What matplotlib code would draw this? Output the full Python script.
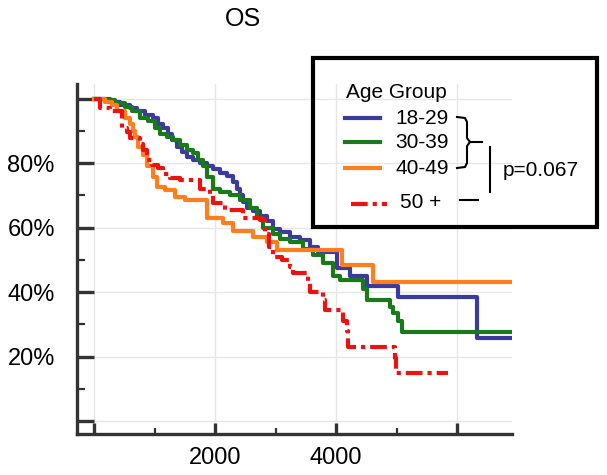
import matplotlib
matplotlib.use("Agg")
import matplotlib.pyplot as plt
from matplotlib.lines import Line2D
from matplotlib.patches import Rectangle

plt.rcParams['font.family'] = ['Liberation Sans', 'DejaVu Sans']

# ---- data (time in days, survival in %) ----
t_18_29 = [0, 265, 430, 595, 710, 843, 975, 1058, 1140, 1223, 1289, 1372, 1455, 1537, 1636,
           1752, 1868, 1967, 2083, 2198, 2298, 2364, 2413, 2463, 2529, 2628, 2744, 2860, 2959,
           3075, 3240, 3405, 3570, 3700, 4017, 4232, 4513, 5025, 6331, 6900]
s_18_29 = [100, 99, 98, 97, 96, 95, 94, 92, 91, 89, 87, 85, 83.5, 82, 81,
           80, 79, 78, 77, 76, 74, 72, 70, 68, 66, 65, 63.5, 62, 59.5,
           58.5, 57, 56, 54, 52.5, 47.5, 45, 42, 38.4, 25.7, 25.7]

t_30_39 = [0, 182, 347, 512, 628, 760, 893, 1008, 1091, 1207, 1306, 1422, 1537, 1636, 1719,
           1802, 1868, 1967, 2083, 2248, 2413, 2579, 2694, 2794, 2959, 3075, 3240, 3455, 3620,
           3786, 3951, 4067, 4447, 4513, 4893, 4943, 5025, 5091, 6900]
s_30_39 = [100, 99.5, 98.5, 97.5, 96, 94, 93, 91, 89, 88, 87, 85.5, 84, 83, 81,
           79, 75.7, 72, 71, 70, 68.5, 66, 63, 60, 58, 56.5, 55.5, 53.5, 51.5,
           49, 45, 43.7, 41, 37.5, 35.3, 33.5, 31, 27.6, 27.6]

t_40_49 = [0, 182, 298, 380, 512, 595, 645, 678, 727, 810, 876, 975, 1041, 1174, 1339,
           1504, 1868, 2132, 2298, 2628, 2860, 3025, 4100, 4612, 6900]
s_40_49 = [100, 99, 98, 96, 94, 92, 90, 88, 85, 82.5, 79, 75.7, 72.6, 71.5, 69.5,
           68.5, 63, 61.4, 59, 57, 55.5, 53, 48.4, 43, 43]

t_50p = [0, 99, 265, 463, 546, 595, 760, 810, 876, 959, 1058, 1140, 1256, 1422, 1752,
         1917, 1967, 2165, 2463, 2744, 2827, 2893, 2959, 3108, 3240, 3290, 3538, 3571, 3786,
         3819, 4116, 4182, 4199, 4976, 4992, 5850]
s_50p = [100, 97, 96, 91, 89.6, 87.7, 86, 84, 81, 79.5, 78.5, 76.5, 75.5, 74.7, 72,
         70.5, 67.6, 65.4, 63, 62.3, 58, 54, 51, 50, 47.8, 45.9, 42.8, 40, 37.5,
         34.4, 31, 28, 23, 19.5, 15, 15]

groups = ['18-29', '30-39', '40-49', '50 +']
colors = ['#3B3B9E', '#1A7A1A', '#FF7F1E', '#EE1111']

y_ticks = [0, 20, 40, 60, 80, 100]
y_labels = ['', '20%', '40%', '60%', '80%', '']
x_ticks = [0, 2000, 4000, 6000]
x_labels = ['', '2000', '4000', '']

W, H = 607, 475
fig = plt.figure(figsize=(W / 100, H / 100), dpi=100)


def fx(px):
    return px / W


def fy(py):
    return 1 - py / H


ax = fig.add_axes([fx(77), fy(434), fx(512) - fx(77), fy(84) - fy(434)])
ax.set_xlim(-281, 6909)
ax.set_ylim(-4.0, 104.5)

lw = 3.0
dash = (4.0, 1.2, 1.0, 1.2)
series = [(t_18_29, s_18_29), (t_30_39, s_30_39), (t_40_49, s_40_49), (t_50p, s_50p)]
for i, ((t, s), c) in enumerate(zip(series, colors)):
    if i == 3:
        ax.step(t, s, where='post', color=c, lw=lw, dashes=dash, zorder=3 + i)
    else:
        ax.step(t, s, where='post', color=c, lw=lw, zorder=3 + i)

ax.set_yticks(y_ticks)
ax.set_yticklabels(y_labels)
ax.set_yticks([10, 30, 50, 70, 90], minor=True)
ax.set_xticks(x_ticks)
ax.set_xticklabels(x_labels)
ax.set_xticks([1000, 3000, 5000], minor=True)

ax.tick_params(axis='y', which='major', direction='in', length=12, width=2.4,
               color='#333333', labelsize=17, pad=16)
ax.tick_params(axis='y', which='minor', direction='in', length=6, width=1.6, color='#333333')
ax.tick_params(axis='x', which='major', direction='in', length=8, width=2.4,
               color='#333333', labelsize=17, pad=9)
ax.tick_params(axis='x', which='minor', direction='in', length=4.5, width=1.6, color='#333333')

for side in ['top', 'right']:
    ax.spines[side].set_visible(False)
for side in ['left', 'bottom']:
    ax.spines[side].set_color('#333333')
    ax.spines[side].set_linewidth(2.4)

ax.grid(True, which='major', color='#E6E6E6', lw=1.0, zorder=0)
ax.set_axisbelow(True)

# title
fig.text(fx(243), fy(19), 'OS', ha='center', va='center', fontsize=18)

# legend box
fig.add_artist(Rectangle((fx(313), fy(227)), fx(597) - fx(313), fy(58) - fy(227),
                         transform=fig.transFigure, fill=False, edgecolor='black', lw=3.0, zorder=10))
fig.text(fx(346), fy(92), 'Age Group', ha='left', va='center', fontsize=15, zorder=11)

leg_y = [118, 142, 168]
for yy, c, g in zip(leg_y, colors[:3], groups[:3]):
    fig.add_artist(Line2D([fx(345), fx(380)], [fy(yy), fy(yy)], transform=fig.transFigure,
                          color=c, lw=lw, zorder=11))
    fig.text(fx(395), fy(yy), g, ha='left', va='center', fontsize=15, zorder=11)
fig.add_artist(Line2D([fx(351), fx(387)], [fy(204), fy(204)], transform=fig.transFigure,
                      color=colors[3], lw=lw, dashes=dash, zorder=11))
fig.text(fx(400), fy(203), groups[3], ha='left', va='center', fontsize=15, zorder=11)

# brace
bx = [457, 465, 467, 467, 470, 482]
by = [117, 118, 122, 138, 142, 142]
fig.add_artist(Line2D([fx(v) for v in bx], [fy(v) for v in by], transform=fig.transFigure,
                      color='black', lw=1.5, zorder=11))
bx2 = [470, 467, 467, 465, 457]
by2 = [142, 146, 163, 167, 168]
fig.add_artist(Line2D([fx(v) for v in bx2], [fy(v) for v in by2], transform=fig.transFigure,
                      color='black', lw=1.5, zorder=11))
fig.add_artist(Line2D([fx(490), fx(490)], [fy(147), fy(192)], transform=fig.transFigure,
                      color='black', lw=1.5, zorder=11))
fig.add_artist(Line2D([fx(460), fx(478)], [fy(200), fy(200)], transform=fig.transFigure,
                      color='black', lw=1.5, zorder=11))
fig.text(fx(503), fy(170), 'p=0.067', ha='left', va='center', fontsize=15, zorder=11)

fig.savefig('out.png', dpi=100)
